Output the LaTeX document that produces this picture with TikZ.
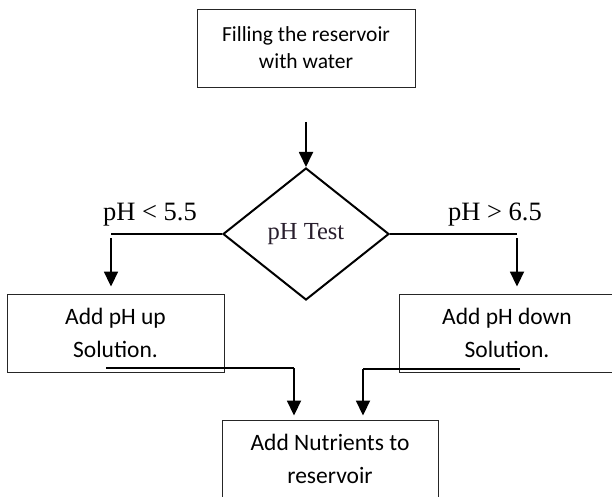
\documentclass[tikz,border=0pt]{standalone}
\usepackage{fontspec}
\setmainfont{Carlito}
\newfontfamily\timesfont{Liberation Serif}
\usetikzlibrary{shapes.geometric,arrows.meta}

\begin{document}
\begin{tikzpicture}[x=1pt,y=1pt]
      \tikzstyle{every node}+=[inner sep=0pt]
      \tikzstyle{box}=[draw=black!85, line width=0.9pt, minimum width=217pt, minimum height=78pt, align=center, font=\fontsize{23.5}{33}\selectfont]
      \tikzstyle{arr}=[black, line width=1.8pt, -{Triangle[width=14pt,length=15pt]}]
      \tikzstyle{wire}=[black, line width=1.1pt]
      \useasboundingbox (0,0) rectangle (612,-497);
      \node [box, minimum width=218pt, font=\fontsize{21.5}{27}\selectfont] (fill) at (306,-48) {Filling the reservoir\\with water};
      \node [draw, diamond, line width=2pt, minimum width=166pt, minimum height=132pt, font=\timesfont\fontsize{24.5}{28}\selectfont, text={rgb,255:red,40;green,30;blue,45}] (test) at (306,-234) {pH Test};
      \node [box] (up) at (115.5,-333) {Add pH up\\Solution.};
      \node [box, minimum width=216pt] (down) at (507,-333) {Add pH down\\Solution.};
      \node [box, minimum width=216pt] (nutr) at (330,-459) {Add Nutrients to\\reservoir};
      \draw (150,-215) node [font=\timesfont\fontsize{26.5}{30}\selectfont] (lt) {pH < 5.5};
      \draw (495,-215) node [font=\timesfont\fontsize{26.5}{30}\selectfont] (gt) {pH > 6.5};
      % turning points of the connectors
      \coordinate (top) at (306,-122);
      \coordinate (lturn) at (111,-234);
      \coordinate (rturn) at (517,-234);
      \coordinate (lout) at (106,-368);
      \coordinate (rout) at (520,-369);
      \draw [arr] (top) -- (test.north);
      \draw [wire] (test.west) -- (lturn);
      \draw [arr, shorten >=7pt] ([yshift=-4pt]lturn) -- (lturn |- up.north);
      \draw [wire] (test.east) -- (rturn);
      \draw [arr, shorten >=7pt] ([yshift=-4pt]rturn) -- (rturn |- down.north);
      \draw [wire] (lout) -- (294,-368);
      \draw [arr, shorten >=4pt] (294,-368) -- ([xshift=-36pt]nutr.north);
      \draw [wire] (rout) -- (363,-369);
      \draw [arr, shorten >=4pt] (363,-369) -- ([xshift=33pt]nutr.north);
\end{tikzpicture}
\end{document}
